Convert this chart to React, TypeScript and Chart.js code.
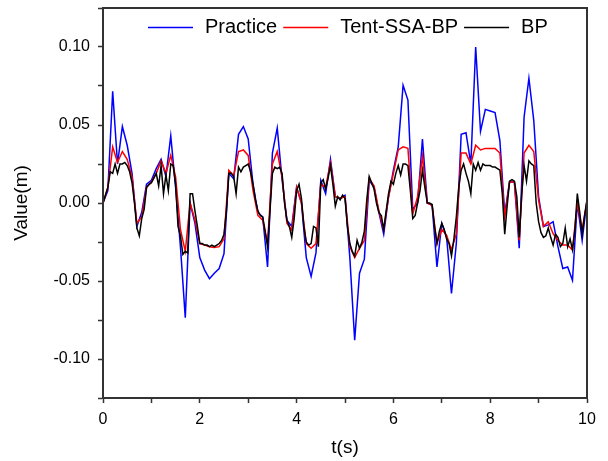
import React, { useEffect, useRef } from "react";
import { Chart, registerables } from "chart.js";

Chart.register(...registerables);

// Time grids (seconds)
const timeCoarse: number[] = Array.from({ length: 101 }, (_, i) => i / 10);
const timeFine: number[] = Array.from({ length: 201 }, (_, i) => i / 20);

// Measured response (0.1 s step)
const practice: number[] = [
  0, 0.008, 0.0716, 0.025, 0.049, 0.037, 0.019, -0.015, -0.006, 0.012,
  0.0145, 0.022, 0.028, 0.017, 0.043, 0.010, -0.028, -0.0735, 0, -0.013,
  -0.035, -0.043, -0.0485, -0.045, -0.042, -0.0325, 0.019, 0.0156, 0.044, 0.049,
  0.041, 0.012, -0.006, -0.009, -0.041, 0.032, 0.048, 0.015, -0.011, -0.015,
  0.010, 0, -0.035, -0.047, -0.032, 0.0145, 0.006, 0.028, 0.004, 0.003,
  0.005, -0.035, -0.088, -0.045, -0.036, 0.0145, 0.010, -0.006, -0.020, 0.004,
  0.021, 0.036, 0.0754, 0.066, -0.004, 0, 0.041, 0, -0.0015, -0.041,
  -0.013, -0.022, -0.058, -0.026, 0.044, 0.045, 0.025, 0.100, 0.046, 0.060,
  0.059, 0.058, 0.040, -0.007, 0.0135, 0.0135, -0.029, 0.055, 0.080, 0.053,
  0.004, -0.015, -0.014, -0.012, -0.028, -0.042, -0.041, -0.0496, 0, -0.024,
  0.0017,
];

// Tent-SSA-BP prediction (0.1 s step)
const tentSsaBp: number[] = [
  0, 0.010, 0.036, 0.026, 0.033, 0.028, 0.0167, -0.013, -0.009, 0.010,
  0.0135, 0.019, 0.027, 0.019, 0.0305, 0.0167, -0.017, -0.031, 0, -0.011,
  -0.026, -0.027, -0.028, -0.0285, -0.028, -0.023, 0.021, 0.0175, 0.033, 0.034,
  0.0305, 0.008, -0.008, -0.011, -0.026, 0.025, 0.033, 0.0167, -0.013, -0.0175,
  0.010, 0, -0.026, -0.029, -0.026, 0.012, 0.010, 0.026, 0.004, 0.003,
  0.004, -0.028, -0.035, -0.029, -0.024, 0.0156, 0.011, -0.005, -0.017, 0.004,
  0.019, 0.034, 0.036, 0.035, -0.007, 0.004, 0.030, 0, -0.0015, -0.026,
  -0.017, -0.0207, -0.030, -0.0197, 0.032, 0.032, 0.025, 0.037, 0.034, 0.035,
  0.035, 0.035, 0.032, -0.009, 0.0135, 0.0135, -0.024, 0.032, 0.037, 0.033,
  0.0017, -0.015, -0.012, -0.0197, -0.024, -0.027, -0.027, -0.030, 0, -0.017,
  0.001,
];

// BP prediction (0.05 s step)
const bp: number[] = [
  0, 0.005, 0.010, 0.020, 0.019, 0.025, 0.019, 0.025, 0.025, 0.026,
  0.024, 0.020, 0.013, 0.000, -0.016, -0.021, -0.010, -0.004, 0.010, 0.012,
  0.013, 0.016, 0.019, 0.011, 0.024, 0.006, 0.018, 0.008, 0.025, 0.024,
  0.012, -0.015, -0.021, -0.033, -0.031, -0.032, 0.006, 0.006, -0.005, -0.015,
  -0.026, -0.026, -0.027, -0.027, -0.028, -0.027, -0.028, -0.027, -0.026, -0.024,
  -0.020, -0.005, 0.019, 0.019, 0.017, 0.006, 0.023, 0.020, 0.023, 0.024,
  0.025, 0.020, 0.012, 0.002, -0.005, -0.008, -0.009, -0.018, -0.028, -0.005,
  0.019, 0.023, 0.022, 0.023, 0.019, 0.000, -0.011, -0.015, -0.022, -0.010,
  0.008, 0.012, 0.003, -0.015, -0.025, -0.027, -0.026, -0.015, -0.016, -0.028,
  0.013, 0.015, 0.009, 0.016, 0.024, 0.012, -0.002, 0.004, 0.002, 0.005,
  0.003, -0.015, -0.026, -0.031, -0.034, -0.024, -0.029, -0.025, -0.018, 0.002,
  0.017, 0.013, 0.009, 0.000, -0.006, -0.008, -0.017, -0.005, 0.006, 0.014,
  0.012, 0.019, 0.024, 0.018, 0.025, 0.025, 0.024, 0.008, -0.010, -0.008,
  0.000, 0.008, 0.021, 0.010, 0.000, 0.000, -0.001, -0.015, -0.026, -0.018,
  -0.013, -0.017, -0.023, -0.026, -0.034, -0.023, -0.009, 0.010, 0.021, 0.025,
  0.019, 0.014, 0.006, 0.025, 0.021, 0.026, 0.021, 0.025, 0.024, 0.024,
  0.024, 0.023, 0.023, 0.022, 0.021, 0.006, -0.020, -0.002, 0.014, 0.015,
  0.014, 0.004, -0.022, 0.005, 0.024, 0.014, 0.027, 0.025, 0.024, 0.000,
  -0.012, -0.019, -0.022, -0.021, -0.016, -0.022, -0.027, -0.020, -0.022, -0.028,
  -0.026, -0.016, -0.028, -0.023, -0.030, -0.017, 0.006, -0.006, -0.020, -0.008,
  0.002,
];

const seriesNames = ["Practice", "Tent-SSA-BP", "BP"];
const seriesColors = ["#0000ff", "#ff0000", "#000000"];

const FONT = '"Liberation Sans", Arial, Helvetica, sans-serif';

const frameAndLegend = {
  id: "frameAndLegend",
  afterDraw(chart: any) {
    const { ctx, chartArea: a } = chart;
    ctx.save();
    ctx.strokeStyle = "#333333";
    ctx.lineWidth = 2;
    ctx.strokeRect(a.left, a.top, a.right - a.left, a.bottom - a.top);

    ctx.font = `20px ${FONT}`;
    ctx.textBaseline = "middle";
    ctx.textAlign = "left";
    let x = a.left + 45;
    const y = a.top + 19.5;
    chart.data.datasets.forEach((ds: any) => {
      ctx.strokeStyle = ds.borderColor;
      ctx.lineWidth = 1.5;
      ctx.beginPath();
      ctx.moveTo(x, y);
      ctx.lineTo(x + 45, y);
      ctx.stroke();
      ctx.fillStyle = "#000000";
      ctx.fillText(ds.label, x + 57, y);
      x += 57 + ctx.measureText(ds.label).width + 6;
    });
    ctx.restore();
  },
};

export default function App() {
  const canvasRef = useRef<HTMLCanvasElement | null>(null);

  useEffect(() => {
    document.body.style.margin = "0";
    const canvas = canvasRef.current;
    if (!canvas) return;

    const toPoints = (xs: number[], ys: number[]) => ys.map((y, i) => ({ x: xs[i], y }));

    const chart = new Chart(canvas, {
      type: "line",
      data: {
        datasets: [
          {
            label: seriesNames[0],
            data: toPoints(timeCoarse, practice),
            borderColor: seriesColors[0],
            backgroundColor: seriesColors[0],
            borderWidth: 1.5,
            pointRadius: 0,
            tension: 0,
            order: 3,
          },
          {
            label: seriesNames[1],
            data: toPoints(timeCoarse, tentSsaBp),
            borderColor: seriesColors[1],
            backgroundColor: seriesColors[1],
            borderWidth: 1.5,
            pointRadius: 0,
            tension: 0,
            order: 2,
          },
          {
            label: seriesNames[2],
            data: toPoints(timeFine, bp),
            borderColor: seriesColors[2],
            backgroundColor: seriesColors[2],
            borderWidth: 1.5,
            pointRadius: 0,
            tension: 0,
            order: 1,
          },
        ],
      },
      options: {
        responsive: false,
        animation: false,
        devicePixelRatio: 1,
        layout: { padding: { top: 8, right: 21, left: 0, bottom: 0 } },
        plugins: {
          legend: { display: false },
          tooltip: { enabled: false },
        },
        scales: {
          x: {
            type: "linear",
            min: 0,
            max: 10,
            afterFit: (s: any) => {
              s.height = 63;
              s.paddingLeft = 0;
              s.paddingRight = 0;
            },
            ticks: {
              stepSize: 1,
              autoSkip: false,
              maxRotation: 0,
              color: "#000000",
              padding: 7,
              font: { family: FONT, size: 16 },
              callback: (v: any) => (Math.round(v) % 2 === 0 ? String(v) : ""),
            },
            grid: {
              drawOnChartArea: false,
              tickLength: 5,
              tickColor: "#333333",
              tickWidth: 1.5,
            },
            border: { color: "#333333", width: 2 },
            title: {
              display: true,
              text: "t(s)",
              color: "#000000",
              font: { family: FONT, size: 19 },
              padding: { top: 0, bottom: 2 },
            },
          },
          y: {
            type: "linear",
            min: -0.125,
            max: 0.125,
            afterFit: (s: any) => {
              s.width = 103;
              s.paddingTop = 0;
              s.paddingBottom = 0;
            },
            ticks: {
              stepSize: 0.025,
              autoSkip: false,
              color: "#000000",
              padding: 8,
              font: { family: FONT, size: 16 },
              callback: (v: any) => {
                const k = v / 0.05;
                if (Math.abs(k - Math.round(k)) > 1e-6) return "";
                if (Math.abs(v) < 1e-9) return "0.00";
                return Number(v).toFixed(2);
              },
            },
            grid: {
              drawOnChartArea: false,
              tickLength: 5,
              tickColor: "#333333",
              tickWidth: 1.5,
            },
            border: { color: "#333333", width: 2 },
            title: {
              display: true,
              text: "Value(m)",
              color: "#000000",
              font: { family: FONT, size: 19 },
              padding: { top: 10, bottom: 0 },
            },
          },
        },
      },
      plugins: [frameAndLegend],
    });

    return () => {
      chart.destroy();
    };
  }, []);

  return (
    <div style={{ width: 608, height: 461 }}>
      <canvas ref={canvasRef} width={608} height={461} style={{ display: "block" }} />
    </div>
  );
}
